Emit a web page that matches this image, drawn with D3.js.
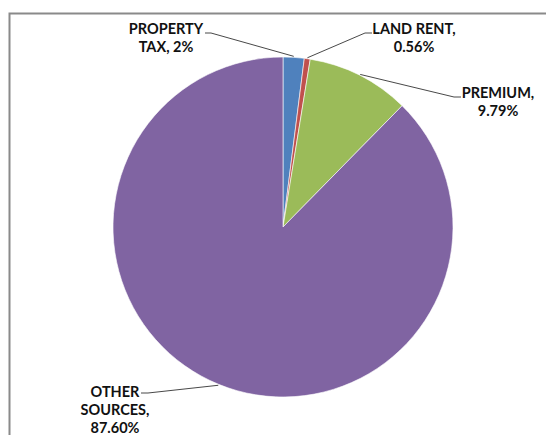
<!DOCTYPE html>
<html>
<head>
<meta charset="utf-8">
<script src="https://cdn.jsdelivr.net/npm/d3@7"></script>
<style>
  body { margin: 0; background: #fff; }
  text { font-family: Lato, "Open Sans", sans-serif; font-weight: bold; fill: #111; }
</style>
</head>
<body>
<svg id="pie" width="546" height="435"></svg>
<script>
const categories = ['PROPERTY TAX', 'LAND RENT', 'PREMIUM', 'OTHER SOURCES'];
const shares = [2, 0.56, 9.79, 87.60];
const shareLabels = ['2%', '0.56%', '9.79%', '87.60%'];
const colors = ['#4f81bd', '#c0504d', '#9bbb59', '#8064a2'];

// label text lines + where the label sits and where its leader bends
const labelLayout = [
  { lines: ['PROPERTY', 'TAX, 2%'], x: 166, y: 34, from: [205, 33], bend: [211, 33] },
  { lines: ['LAND RENT,', '0.56%'], x: 414, y: 34, from: [372, 33], bend: [365, 33] },
  { lines: ['PREMIUM,', '9.79%'], x: 498, y: 98, from: [461, 97], bend: [454, 97] },
  { lines: ['OTHER', 'SOURCES,', '87.60%'], x: 115, y: 397, from: [141, 393], bend: [148, 393] }
];

const width = 546, height = 435;
const cx = 283, cy = 227, radius = 170;
const svg = d3.select('#pie');

// chart frame (only top and left edges fall inside the picture)
svg.append('path')
    .attr('d', 'M9.5,' + height + ' V13.5 H' + width)
    .attr('fill', 'none')
    .attr('stroke', '#8a8a8a')
    .attr('stroke-width', 2);

const data = categories.map((c, i) => ({ name: c, value: shares[i], label: shareLabels[i], i: i }));

const arcs = d3.pie()
                .sort(null)
                .value(d => d.value)(data);

const path = d3.arc()
                .outerRadius(radius)
                .innerRadius(0);

const chart = svg.append('g')
                  .attr('transform', 'translate(' + cx + ',' + cy + ')');

chart.selectAll('.arc')
    .data(arcs)
    .enter()
      .append('path')
      .classed('arc', true)
      .attr('fill', d => colors[d.data.i])
      .attr('stroke', '#fff')
      .attr('stroke-width', 0.6)
      .attr('d', path);

// leader lines: from label, to the rim at the slice's mid angle
const line = d3.line();
arcs.forEach((a, i) => {
  const lay = labelLayout[i];
  const mid = (a.startAngle + a.endAngle) / 2;
  const rim = [cx + Math.sin(mid) * (radius + 1), cy - Math.cos(mid) * (radius + 1)];
  svg.append('path')
      .attr('d', line([lay.from, lay.bend, rim]))
      .attr('fill', 'none')
      .attr('stroke', '#333')
      .attr('stroke-width', 0.9);

  const t = svg.append('text')
      .attr('x', lay.x)
      .attr('y', lay.y)
      .attr('font-size', '14.5px')
      .style('text-anchor', 'middle');
  lay.lines.forEach((s, k) => {
    t.append('tspan')
      .attr('x', lay.x)
      .attr('dy', k === 0 ? 0 : 18)
      .text(s);
  });
});
</script>
</body>
</html>
